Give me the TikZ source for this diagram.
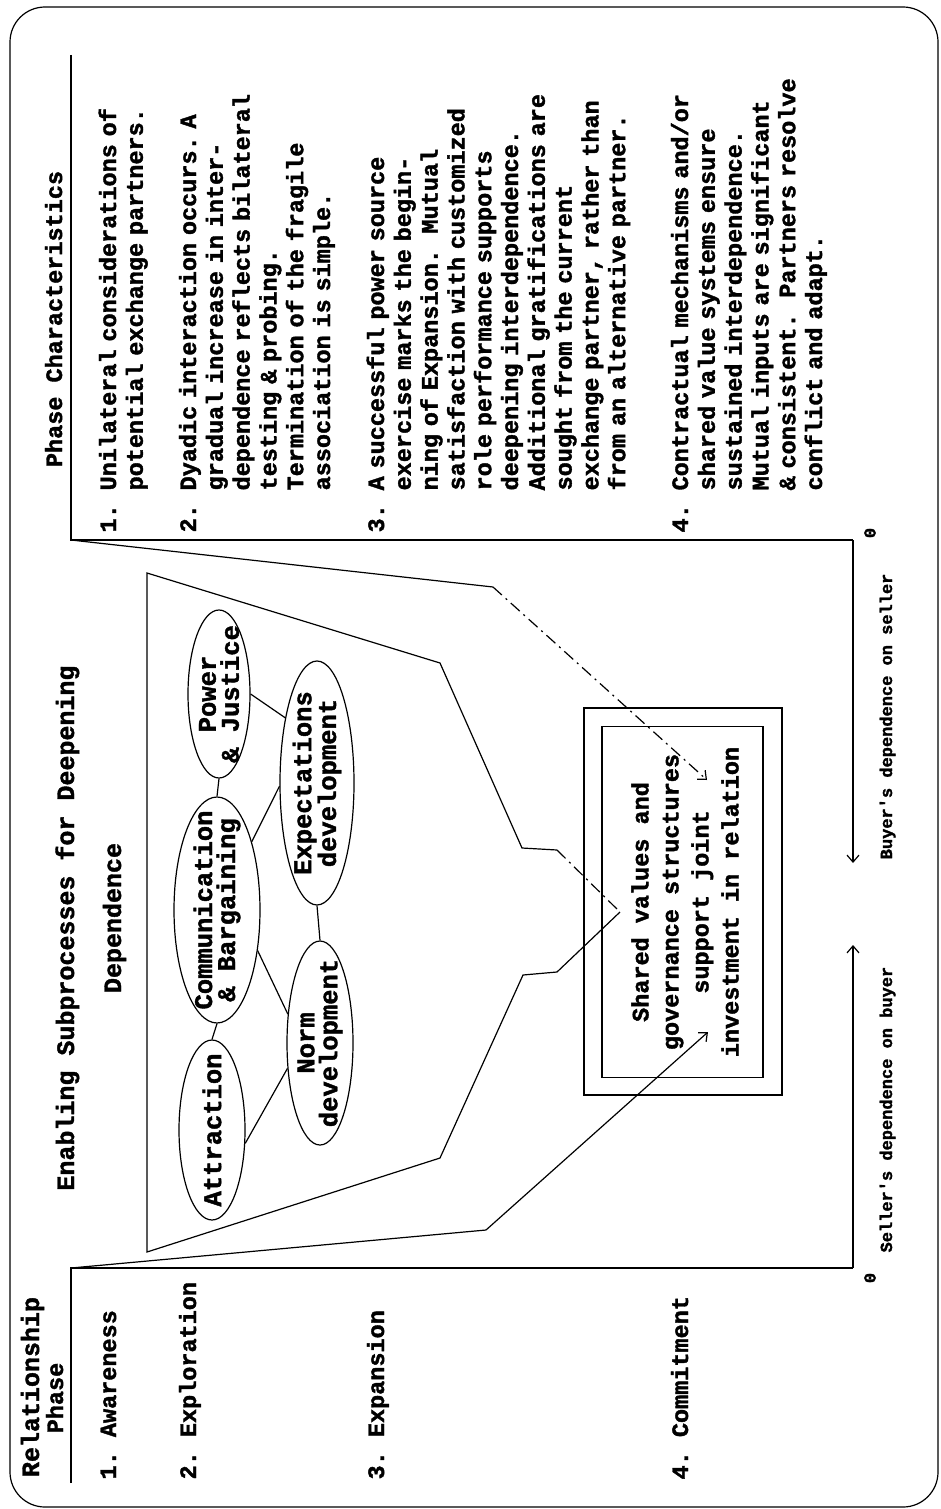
\documentclass[tikz,border=0pt]{standalone}
\usepackage{fontspec}
\newfontfamily\tw{Liberation Mono}[BoldFeatures={FakeBold=1.6}]
\usetikzlibrary{shapes.geometric,arrows.meta}
\frenchspacing
\begin{document}
\begin{tikzpicture}[x=1pt,y=1pt,
  line width=1.2pt,
  txt/.style={inner sep=0pt, font=\tw\bfseries\fontsize{23.5}{26.8}\selectfont},
  head/.style={inner sep=0pt, anchor=base, font=\tw\bfseries\fontsize{25}{26.8}\selectfont},
  para/.style={txt, anchor=base west, text width=480pt, align=left},
  ell/.style={draw, ellipse, inner sep=0pt},
  etxt/.style={inner sep=0pt, align=center, font=\tw\bfseries\fontsize{25.5}{23}\selectfont},
  boxtxt/.style={inner sep=0pt, align=center, font=\tw\bfseries\fontsize{23.5}{30}\selectfont},
  axtxt/.style={inner sep=0pt, font=\tw\bfseries\fontsize{17}{20}\selectfont},
  arr/.style={-{Straight Barb[length=7pt,width=12pt]}},
  dotdashline/.style={dash pattern=on 12pt off 5pt on 2pt off 5pt}
]
\useasboundingbox (0,-1509) rectangle (940,0);
% the table is laid out in landscape and turned upright
\begin{scope}[shift={(0,-1509)}, rotate=90, transform shape]
  % frame
  \draw[rounded corners=35pt] (2,-10) rectangle (1502,-938);

  % column headers
  \node[head] (hRel) at (122,-39) {Relationship};
  \node[txt, anchor=base] (hPhase) at (111,-63) {Phase};
  \node[head] (hEnab) at (581,-74) {Enabling Subprocesses for Deepening};
  \node[head] (hDep) at (591,-121) {Dependence};
  \node[txt, anchor=base] (hChar) at (1190,-62) {Phase Characteristics};

  % rules and dependence axes
  \coordinate (lUnd) at (26,-71);
  \coordinate (lC) at (241,-71);
  \coordinate (sz) at (241,-853);
  \coordinate (sEnd) at (564,-853);
  \coordinate (rUnd) at (1454,-71);
  \coordinate (rC) at (969,-71);
  \coordinate (bz) at (969,-853);
  \coordinate (bEnd) at (646,-853);
  \draw (lUnd) -- (lC) -- (sz);
  \draw (rUnd) -- (rC) -- (bz);
  \draw[arr] (sz) -- (sEnd);
  \draw[arr] (bz) -- (bEnd);
  \node[axtxt] (z1) at (231,-870) {0};
  \node[axtxt, anchor=base west] (sLab) at (256,-892) {Seller's dependence on buyer};
  \node[axtxt] (z2) at (976,-870) {0};
  \node[axtxt, anchor=base east] (bLab) at (936,-892) {Buyer's dependence on seller};

  % relationship phases
  \node[txt, anchor=base west] (r1) at (29,-116) {1. Awareness};
  \node[txt, anchor=base west] (r2) at (29,-196) {2. Exploration};
  \node[txt, anchor=base west] (r3) at (29,-384) {3. Expansion};
  \node[txt, anchor=base west] (r4) at (29,-688) {4. Commitment};

  % phase characteristics
  \node[txt, anchor=base west] (n1) at (976,-116) {1.};
  \node[para] (c1) at (1018,-116) {Unilateral considerations of\\potential exchange partners.};
  \node[txt, anchor=base west] (n2) at (976,-196) {2.};
  \node[para] (c2) at (1018,-196) {Dyadic interaction occurs. A\\gradual increase in inter-\\dependence reflects bilateral\\testing \& probing.\\Termination of the fragile\\association is simple.};
  \node[txt, anchor=base west] (n3) at (976,-384) {3.};
  \node[para] (c3) at (1018,-384) {A successful power source\\exercise marks the begin-\\ning of Expansion.\ \ Mutual\\satisfaction with customized\\role performance supports\\deepening interdependence.\\Additional gratifications are\\sought from the current\\exchange partner, rather than\\from an alternative partner.};
  \node[txt, anchor=base west] (n4) at (976,-688) {4.};
  \node[para] (c4) at (1018,-688) {Contractual mechanisms and/or\\shared value systems ensure\\sustained interdependence.\\Mutual inputs are significant\\\& consistent.\ \ Partners resolve\\conflict and adapt.};

  % enabling subprocesses
  \node[ell, minimum width=180pt, minimum height=66pt] (attr) at (379,-212) {};
  \node[etxt] (attrT) at (attr) {Attraction};
  \node[ell, minimum width=226pt, minimum height=86pt] (comm) at (599,-217) {};
  \node[etxt] (commT) at (comm) {Communication\\\& Bargaining};
  \node[ell, minimum width=168pt, minimum height=62pt] (pow) at (815,-219) {};
  \node[etxt] (powT) at (pow) {Power\\\& Justice};
  \node[ell, minimum width=204pt, minimum height=66pt] (norm) at (466,-320) {};
  \node[etxt] (normT) at (norm) {Norm\\development};
  \node[ell, minimum width=244pt, minimum height=74pt] (expc) at (726,-317) {};
  \node[etxt] (expcT) at (expc) {Expectations\\development};

  \draw (attr.east) -- (comm.west);
  \draw (comm.east) -- (pow.west);
  \draw (norm.east) -- (expc.west);
  \draw (attr.248) -- (norm.128);
  \draw (comm.225) -- (norm.48);
  \draw (comm.333) -- (expc.95);
  \draw (pow.270) -- (expc.26);

  % commitment box
  \node[draw, inner sep=0pt, minimum width=387pt, minimum height=198pt] (boxOut) at (607.5,-683) {};
  \node[draw, inner sep=0pt, minimum width=351pt, minimum height=161pt] (boxIn) at (607,-682.5) {};
  \node[boxtxt] (boxT) at (607,-685) {Shared values and\\governance structures\\support joint\\investment in relation};

  % funnel around the subprocesses
  \coordinate (A) at (936,-147);
  \coordinate (B) at (846,-440);
  \coordinate (C) at (661,-522);
  \coordinate (D) at (659,-557);
  \coordinate (E) at (597,-620);
  \coordinate (F) at (537,-557);
  \coordinate (G) at (534,-523);
  \coordinate (H) at (351,-440);
  \coordinate (I) at (257,-147);
  \draw (D) -- (C) -- (B) -- (A) -- (I) -- (H) -- (G) -- (F) -- (E);
  \draw[dotdashline] (D) -- (E);

  % lines from the awareness row into the box
  \coordinate (R1) at (922,-493);
  \coordinate (Rt) at (729,-707);
  \coordinate (L1) at (279,-486);
  \coordinate (Lt) at (477,-708);
  \draw (rC) -- (R1);
  \draw[dotdashline, arr] (R1) -- (Rt);
  \draw (lC) -- (L1);
  \draw[arr] (L1) -- (Lt);
\end{scope}
\end{tikzpicture}
\end{document}
